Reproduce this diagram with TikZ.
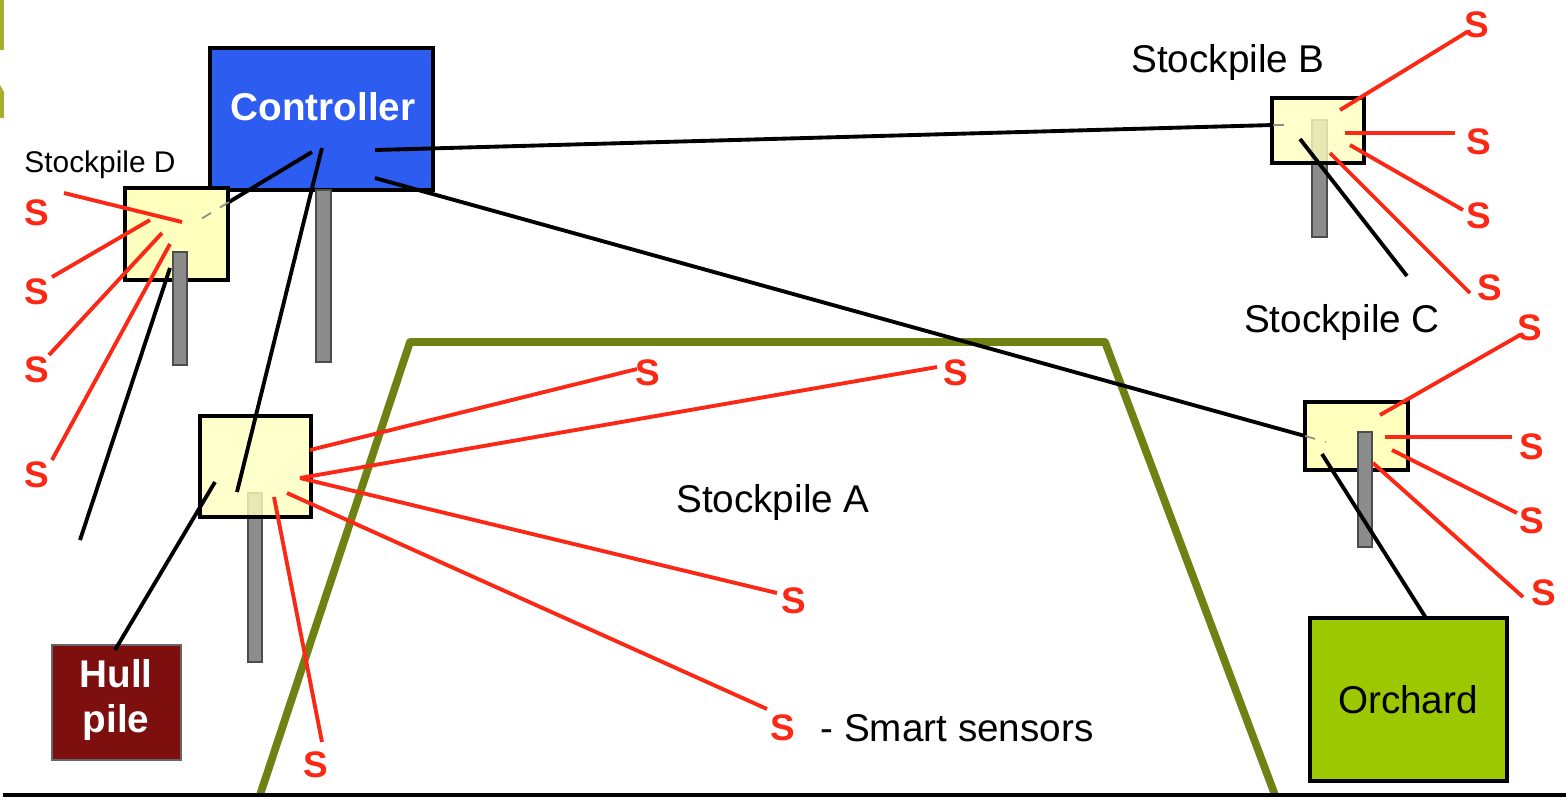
\documentclass[tikz,border=0pt]{standalone}
\usepackage{fontspec}
\setmainfont{Liberation Sans}
\definecolor{ctrlblue}{RGB}{44,92,240}
\definecolor{sred}{RGB}{250,40,20}
\definecolor{pileyellow}{RGB}{255,255,190}
\definecolor{hullred}{RGB}{125,15,15}
\definecolor{orchardgreen}{RGB}{155,200,0}
\definecolor{olive}{RGB}{110,130,20}
\definecolor{lightolive}{RGB}{165,175,45}

\begin{document}
\begin{tikzpicture}[x=0.01cm,y=-0.01cm,
  wire/.style={line width=1.1pt},
  faint/.style={line width=0.5pt, black!45, dashed},
  sline/.style={line width=1.1pt, draw=sred},
  sens/.style={text=sred, font=\fontsize{10.5}{12}\selectfont\bfseries, inner sep=0pt},
  pile/.style={draw, line width=1pt, fill=pileyellow, inner sep=0pt},
  pole/.style={draw=black!70, line width=0.4pt, fill=black!45},
  lbl/.style={font=\fontsize{11}{13}\selectfont, inner sep=0pt},
  boxlbl/.style={font=\fontsize{11}{13}\selectfont\bfseries, text=white, inner sep=0pt, align=center}]
\useasboundingbox (0,0) rectangle (1566,799);

\fill[lightolive] (0,0) rectangle (4,50);
\fill[lightolive] (0,85) -- (4,92) -- (4,118) -- (0,118) -- cycle;

\draw[olive, line width=2.2pt, line join=round] (260,795) -- (410,342) -- (1105,342) -- (1275,795);
\draw[line width=1.4pt] (3,795) -- (1566,795);

\draw[pole] (248,493) rectangle (262,662);
\draw[pole] (1312,120) rectangle (1327,237);

\path (321.5,119) node[draw, line width=1pt, fill=ctrlblue, minimum width=2.23cm, minimum height=1.42cm] (ctrl) {};
\path (323,107) node[boxlbl] (ctrltext) {Controller};
\path (176.5,234) node[pile, minimum width=1.03cm, minimum height=0.92cm] (pileD) {};
\path (255.5,466.5) node[pile, fill opacity=0.8, minimum width=1.11cm, minimum height=1.01cm] (pileA) {};
\path (1318,130.5) node[pile, fill opacity=0.8, minimum width=0.92cm, minimum height=0.65cm] (pileB) {};
\path (1356.5,436) node[pile, minimum width=1.03cm, minimum height=0.68cm] (pileC) {};
\path (116.5,702.5) node[draw=black!60, line width=0.6pt, fill=hullred, minimum width=1.29cm, minimum height=1.15cm] (hull) {};
\path (116,700) node[boxlbl] (hulltext) {Hull\\pile};
\path (1408.5,699.5) node[draw, line width=1pt, fill=orchardgreen, minimum width=1.97cm, minimum height=1.63cm] (orchard) {};
\path (1408,700) node[lbl] (orchardtext) {Orchard};

\draw[pole] (316,190) rectangle (331,362);
\draw[pole] (173,252) rectangle (187,365);
\draw[pole] (1358,432) rectangle (1372,547);

\path (100,165) node[lbl, font=\fontsize{8.5}{10}\selectfont] (lblD) {Stockpile D};
\path (773,502) node[lbl] (lblA) {Stockpile A};
\path (1228,62) node[lbl] (lblB) {Stockpile B};
\path (1342,322) node[lbl] (lblC) {Stockpile C};

\foreach \n/\x/\y in {cD/312/152, cA/322/148, cB/375/150, cC/375/178,
  dEdge/229/202, dIn/196/222, aIn/237/492, bEdge/1273/125, bIn/1292/125,
  cEdge/1305/436, cIn/1326/442, dLow/170/268, dFree/80/540, aLow/215/482, hullTop/115/650,
  bLow/1300/139, bFree/1407/276, cLow/1322/454, orchTop/1426/618}
  \coordinate (\n) at (\x,\y);

\draw[wire] (cD) -- (dEdge);
\draw[faint] (dEdge) -- (dIn);
\draw[wire] (cA) -- (aIn);
\draw[wire] (cB) -- (bEdge);
\draw[faint] (bEdge) -- (bIn);
\draw[wire] (cC) -- (cEdge);
\draw[faint] (cEdge) -- (cIn);
\draw[wire] (dLow) -- (dFree);
\draw[wire] (aLow) -- (hullTop);
\draw[wire] (bLow) -- (bFree);
\draw[wire] (cLow) -- (orchTop);

\foreach \n/\x/\y in {sD1/37/213, sD2/37/292, sD3/37/370, sD4/37/475,
  sA1/648/373, sA2/956/373, sA3/794/601, sA4/783/728, sA5/316/765,
  sB1/1477/25, sB2/1479/142, sB3/1479/216, sB4/1490/288,
  sC1/1530/328, sC2/1532/447, sC3/1532/521, sC4/1544/593}
  \path (\x,\y) node[sens] (\n) {S};

\foreach \n/\x/\y/\u/\v in {D1/182/222/64/193, D2/150/220/52/277, D3/162/233/49/355, D4/170/244/52/460,
  A1/310/450/637/369, A2/300/478/937/367, A3/300/478/777/593, A4/287/493/767/709, A5/274/497/322/742,
  B1/1340/110/1467/32, B2/1345/133/1455/133, B3/1350/145/1463/210, B4/1330/153/1470/293,
  C1/1380/415/1520/335, C2/1385/437/1512/437, C3/1392/450/1517/513, C4/1373/463/1523/597}
{
  \coordinate (\n-in) at (\x,\y);
  \coordinate (\n-out) at (\u,\v);
  \draw[sline] (\n-in) -- (\n-out);
}

\path (957,728) node[lbl] (legend) {- Smart sensors};

\end{tikzpicture}
\end{document}
